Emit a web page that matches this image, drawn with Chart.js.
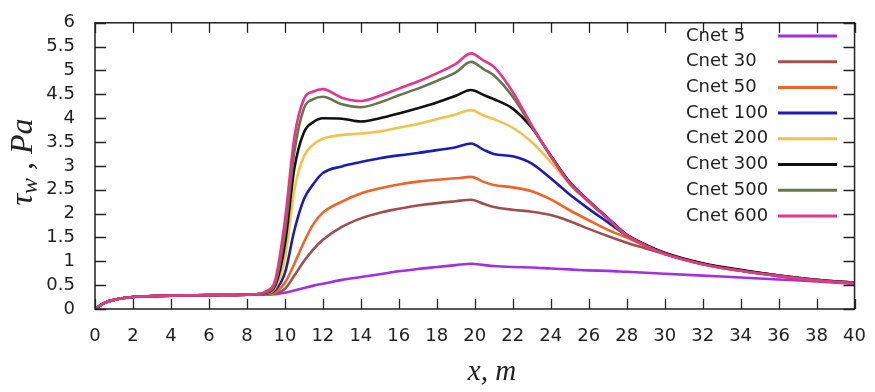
<!DOCTYPE html>
<html>
<head>
<meta charset="utf-8">
<script src="https://cdn.jsdelivr.net/npm/chart.js@4.4.1/dist/chart.umd.min.js"></script>
<style>
  html, body { margin: 0; padding: 0; background: #fff; }
  #wrap { width: 875px; height: 392px; }
</style>
</head>
<body>
<div id="wrap"><canvas id="canvas" width="875" height="392"></canvas></div>
<script>
// x positions along the wall (m)
var xs = [0, 0.5, 1, 2, 3, 4, 6, 8, 8.5,
  9, 9.5, 10, 10.5, 11, 11.5, 12, 13, 14, 15, 16, 17, 18, 19, 19.8, 20.5, 21,
  22, 23, 24, 25, 26, 27, 28, 29, 30, 32, 34, 36, 38, 40];

// upstream part is identical for every case
var start = [0, 0.13, 0.19, 0.25, 0.27, 0.28, 0.29, 0.30, 0.31];

var cnet5   = start.concat([0.30, 0.31, 0.34, 0.39, 0.44, 0.49, 0.53, 0.61, 0.67, 0.73, 0.79, 0.84, 0.88, 0.92, 0.95, 0.92, 0.90, 0.88, 0.87, 0.85, 0.83, 0.81, 0.80, 0.78, 0.76, 0.74, 0.70, 0.66, 0.62, 0.58, 0.53]);
var cnet30  = start.concat([0.31, 0.33, 0.42, 0.70, 1.00, 1.25, 1.45, 1.72, 1.90, 2.02, 2.10, 2.17, 2.22, 2.26, 2.29, 2.20, 2.14, 2.08, 2.04, 1.97, 1.84, 1.68, 1.53, 1.39, 1.27, 1.15, 0.94, 0.80, 0.69, 0.60, 0.54]);
var cnet50  = start.concat([0.31, 0.35, 0.55, 0.95, 1.40, 1.78, 2.02, 2.25, 2.42, 2.53, 2.61, 2.67, 2.71, 2.74, 2.77, 2.66, 2.60, 2.55, 2.47, 2.30, 2.07, 1.86, 1.66, 1.50, 1.32, 1.16, 0.95, 0.81, 0.70, 0.61, 0.55]);
var cnet100 = start.concat([0.32, 0.40, 0.75, 1.65, 2.30, 2.62, 2.85, 2.99, 3.08, 3.16, 3.22, 3.27, 3.33, 3.39, 3.47, 3.33, 3.25, 3.20, 3.05, 2.74, 2.40, 2.10, 1.82, 1.54, 1.34, 1.17, 0.95, 0.81, 0.70, 0.61, 0.55]);
var cnet200 = start.concat([0.33, 0.45, 1.05, 2.50, 3.20, 3.45, 3.57, 3.65, 3.68, 3.72, 3.80, 3.88, 3.98, 4.08, 4.17, 4.05, 3.98, 3.80, 3.50, 3.08, 2.62, 2.25, 1.90, 1.55, 1.34, 1.17, 0.95, 0.81, 0.70, 0.61, 0.55]);
var cnet300 = start.concat([0.34, 0.50, 1.35, 2.95, 3.70, 3.92, 4.00, 3.99, 3.93, 4.00, 4.10, 4.21, 4.33, 4.47, 4.59, 4.48, 4.40, 4.20, 3.80, 3.22, 2.66, 2.27, 1.91, 1.56, 1.35, 1.18, 0.96, 0.82, 0.70, 0.61, 0.55]);
var cnet500 = start.concat([0.35, 0.55, 1.60, 3.30, 4.20, 4.40, 4.45, 4.29, 4.23, 4.33, 4.48, 4.62, 4.78, 4.96, 5.18, 5.02, 4.90, 4.45, 3.83, 3.20, 2.63, 2.25, 1.89, 1.54, 1.33, 1.16, 0.94, 0.80, 0.69, 0.60, 0.54]);
var cnet600 = start.concat([0.37, 0.62, 1.85, 3.60, 4.40, 4.56, 4.61, 4.43, 4.36, 4.47, 4.62, 4.77, 4.94, 5.14, 5.36, 5.20, 5.08, 4.55, 3.85, 3.20, 2.64, 2.26, 1.90, 1.55, 1.33, 1.16, 0.94, 0.80, 0.69, 0.60, 0.54]);

var labels = ['Cnet 5', 'Cnet 30', 'Cnet 50', 'Cnet 100', 'Cnet 200', 'Cnet 300', 'Cnet 500', 'Cnet 600'];
var series = [cnet5, cnet30, cnet50, cnet100, cnet200, cnet300, cnet500, cnet600];
var colors = ['#a52ee0', '#a0504c', '#f06428', '#1c1cb8', '#f3c24a', '#111111', '#66784a', '#e8358a'];

var xTicks = [0, 2, 4, 6, 8, 10, 12, 14, 16, 18, 20, 22, 24, 26, 28, 30, 32, 34, 36, 38, 40];
var yTicks = [0, 0.5, 1, 1.5, 2, 2.5, 3, 3.5, 4, 4.5, 5, 5.5, 6];

var tickFont = { family: 'DejaVu Sans', size: 18 };

let datasets = series.map(function(ys, i) {
  return {
    label: labels[i],
    data: ys.map(function(v, k) { return { x: xs[k], y: v }; }),
    borderColor: colors[i],
    borderWidth: 2.6,
    pointRadius: 0,
    fill: false,
    cubicInterpolationMode: 'monotone',
    order: series.length - i
  };
});

// frame with inward ticks, legend and axis titles, gnuplot style
var decor = {
  id: 'decor',
  afterDatasetsDraw(chart) {
    let ctx = chart.ctx;
    let a = chart.chartArea;
    let sx = chart.scales.x, sy = chart.scales.y;
    ctx.save();
    ctx.strokeStyle = '#222';
    ctx.lineWidth = 1.5;
    ctx.strokeRect(a.left, a.top, a.right - a.left, a.bottom - a.top);
    ctx.lineWidth = 1.3;
    ctx.beginPath();
    xTicks.forEach(function(v) {
      let p = Math.round(sx.getPixelForValue(v)) + 0.5;
      ctx.moveTo(p, a.bottom); ctx.lineTo(p, a.bottom - 10);
      ctx.moveTo(p, a.top); ctx.lineTo(p, a.top + 10);
    });
    yTicks.forEach(function(v) {
      let p = Math.round(sy.getPixelForValue(v)) + 0.5;
      ctx.moveTo(a.left, p); ctx.lineTo(a.left + 11, p);
      ctx.moveTo(a.right, p); ctx.lineTo(a.right - 11, p);
    });
    ctx.stroke();

    // legend
    ctx.font = '18px "DejaVu Sans"';
    ctx.textBaseline = 'middle';
    ctx.textAlign = 'left';
    labels.forEach(function(t, i) {
      let yy = 36 + i * 25.7;
      ctx.fillStyle = '#222';
      ctx.fillText(t, 686, yy);
      ctx.strokeStyle = colors[i];
      ctx.lineWidth = 3;
      ctx.beginPath();
      ctx.moveTo(778, yy); ctx.lineTo(837, yy);
      ctx.stroke();
    });

    // x title
    ctx.fillStyle = '#222';
    ctx.textAlign = 'center';
    ctx.font = 'italic 29px "Liberation Serif"';
    ctx.fillText('x, m', 492, 372);

    // y title with subscript
    ctx.save();
    ctx.translate(24, 162);
    ctx.rotate(-Math.PI / 2);
    ctx.textAlign = 'left';
    let big = 'italic 32px "Liberation Serif"';
    let small = 'italic 24px "Liberation Serif"';
    ctx.font = big; let w1 = ctx.measureText('\u03c4').width;
    ctx.font = small; let w2 = ctx.measureText('w').width;
    ctx.font = big; let w3 = ctx.measureText(' , Pa').width;
    let x0 = -(w1 + w2 + w3) / 2;
    ctx.font = big; ctx.fillText('\u03c4', x0, 0);
    ctx.font = small; ctx.fillText('w', x0 + w1, 7);
    ctx.font = big; ctx.fillText(' , Pa', x0 + w1 + w2, 0);
    ctx.restore();

    ctx.restore();
  }
};

var canvas = document.getElementById('canvas');
var chart = new Chart(canvas.getContext('2d'), {
  type: 'line',
  data: { datasets: datasets },
  options: {
    responsive: false,
    animation: false,
    devicePixelRatio: 1,
    layout: { padding: { left: 0, right: 15, top: 12, bottom: 0 } },
    plugins: { legend: { display: false }, tooltip: { enabled: false } },
    scales: {
      x: {
        type: 'linear', min: 0, max: 40,
        grid: { display: false }, border: { display: false },
        afterBuildTicks: function(s) { s.ticks = xTicks.map(function(v) { return { value: v }; }); },
        ticks: { font: tickFont, color: '#222', padding: 9, maxRotation: 0, autoSkip: false,
          callback: function(v) { return String(v); } },
        afterFit: function(s) { s.height = 83; }
      },
      y: {
        type: 'linear', min: 0, max: 6,
        grid: { display: false }, border: { display: false },
        afterBuildTicks: function(s) { s.ticks = yTicks.map(function(v) { return { value: v }; }); },
        ticks: { font: tickFont, color: '#222', padding: 12, autoSkip: false,
          callback: function(v) { return String(v); } },
        afterFit: function(s) { s.width = 95; }
      }
    }
  },
  plugins: [decor]
});
</script>
</body>
</html>
